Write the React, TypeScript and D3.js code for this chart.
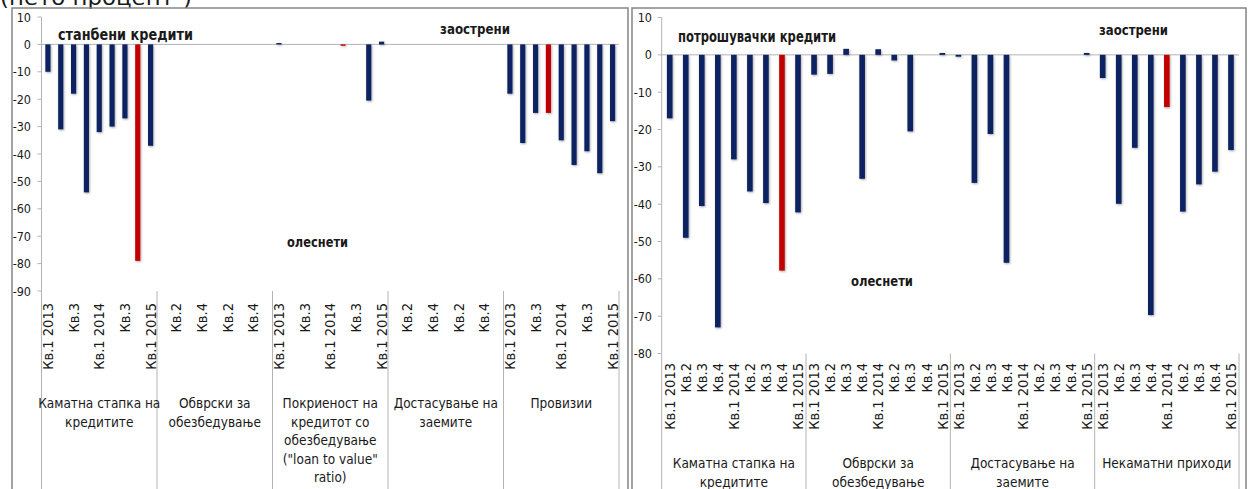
import React from "react";
import * as d3 from "d3";

// ---------- data ----------
const quarters = ["Кв.1 2013", "Кв.2", "Кв.3", "Кв.4", "Кв.1 2014", "Кв.2", "Кв.3", "Кв.4", "Кв.1 2015"];

// Left panel: станбени кредити (housing loans)
const housingGroupLines = [
  ["Каматна стапка на", "кредитите"],
  ["Обврски за", "обезбедување"],
  ["Покриеност на", "кредитот со", "обезбедување", "(\"loan to value\"", "ratio)"],
  ["Достасување на", "заемите"],
  ["Провизии"],
];
const housingRate = [-10, -31, -18, -54, -32, -30, -27, -79, -37];
const housingCollateral = [0, 0, 0, 0, 0, 0, 0, 0, 0];
const housingLTV = [0.5, 0, 0, 0, 0, -0.5, 0, -20.5, 1];
const housingMaturity = [0, 0, 0, 0, 0, 0, 0, 0, 0];
const housingFees = [-18, -36, -25, -25, -35, -44, -39, -47, -28];
const housingRedIndex = [7, -1, 5, -1, 3];
const housingTicks = [10, 0, -10, -20, -30, -40, -50, -60, -70, -80, -90];

// Right panel: потрошувачки кредити (consumer loans)
const consumerGroupLines = [
  ["Каматна стапка на", "кредитите"],
  ["Обврски за", "обезбедување"],
  ["Достасување на", "заемите"],
  ["Некаматни приходи"],
];
const consumerRate = [-17, -49, -40.5, -73, -28, -36.6, -39.7, -57.8, -42.2];
const consumerCollateral = [-5.3, -5.1, 1.6, -33.2, 1.5, -1.5, -20.5, 0, 0.5];
const consumerMaturity = [-0.5, -34.3, -21.2, -55.7, 0, 0, 0, 0, 0.5];
const consumerNonInterest = [-6.2, -39.9, -24.9, -69.7, -14, -42, -34.7, -31.3, -25.5];
const consumerRedIndex = [7, -1, -1, 4];
const consumerTicks = [10, 0, -10, -20, -30, -40, -50, -60, -70, -80];

const NAVY = "#0c2160";
const RED = "#c00000";
const AXIS = "#b4b4b4";
const FRAME = "#858585";
const TXT = "#1a1a1a";
const FONT = "'DejaVu Sans Condensed', 'DejaVu Sans', sans-serif";

type PanelProps = {
  groups: number[][];
  groupLines: string[][];
  redIndex: number[];
  ticks: number[];
  yDomain: [number, number];
  yRange: [number, number];
  xRange: [number, number];
  labelTop: number;
  labelEvery: number;
  groupLabelY: number;
  groupLineGap: number;
  barPad: number;
  tickLabelX: number;
  id: string;
};

function Panel(p: PanelProps) {
  const nPer = quarters.length;
  const slots: { key: string; g: number; i: number; v: number }[] = [];
  p.groups.forEach((vals, g) =>
    vals.forEach((v, i) => slots.push({ key: `${g}-${i}`, g, i, v }))
  );
  const x = d3
    .scaleBand<string>()
    .domain(slots.map((s) => s.key))
    .range(p.xRange)
    .paddingInner(p.barPad)
    .paddingOuter(p.barPad / 2);
  const y = d3.scaleLinear().domain(p.yDomain).range(p.yRange);
  const step = x.step();
  const [x0, x1] = p.xRange;
  const yBottom = y(p.yDomain[0]);
  const groupW = step * nPer;
  return (
    <g>
      {/* y axis */}
      <line x1={x0} x2={x0} y1={y(p.yDomain[1])} y2={489} stroke={AXIS} strokeWidth={1} />
      {p.ticks.map((t) => (
        <g key={t}>
          <line x1={x0 - 4} x2={x0} y1={y(t)} y2={y(t)} stroke={AXIS} />
          <text
            x={p.tickLabelX}
            y={y(t)}
            dy="0.36em"
            textAnchor="end"
            fontSize={12.5}
            fontFamily={FONT}
            fill={TXT}
          >
            {t}
          </text>
        </g>
      ))}
      {/* zero line */}
      <line x1={x0} x2={x1} y1={y(0)} y2={y(0)} stroke={AXIS} strokeWidth={1} />
      {/* group separators */}
      {p.groups.map((_, g) => (
        <line
          key={g}
          x1={x0 + groupW * (g + 1)}
          x2={x0 + groupW * (g + 1)}
          y1={yBottom}
          y2={489}
          stroke={AXIS}
        />
      ))}
      {/* bars */}
      <g filter={`url(#shadow-${p.id})`}>
        {slots.map((s) => {
          const bx = x(s.key) as number;
          const yy = Math.min(y(0), y(s.v));
          const h = Math.max(Math.abs(y(s.v) - y(0)), s.v === 0 ? 0 : 1);
          return (
            <rect
              key={s.key}
              x={bx}
              y={yy}
              width={x.bandwidth()}
              height={h}
              fill={p.redIndex[s.g] === s.i ? RED : NAVY}
            />
          );
        })}
      </g>
      {/* category labels */}
      {slots.map((s, k) =>
        k % p.labelEvery === 0 ? (
          <text
            key={s.key}
            transform={`translate(${(x(s.key) as number) + x.bandwidth() / 2},${p.labelTop}) rotate(-90)`}
            textAnchor="end"
            dy="0.36em"
            fontSize={14.5}
            fontFamily={FONT}
            fill={TXT}
          >
            {quarters[s.i]}
          </text>
        ) : null
      )}
      {/* group labels */}
      {p.groupLines.map((lines, g) =>
        lines.map((ln, j) => (
          <text
            key={`${g}-${j}`}
            x={x0 + groupW * g + groupW / 2}
            y={p.groupLabelY + j * p.groupLineGap}
            textAnchor="middle"
            fontSize={13.5}
            fontFamily={FONT}
            fill={TXT}
          >
            {ln}
          </text>
        ))
      )}
    </g>
  );
}

export default function App() {
  const W = 1248;
  const H = 489;
  return (
    <svg
      width={W}
      height={H}
      style={{ position: "absolute", left: 0, top: 0, background: "#fff" }}
    >
      <defs>
        {["L", "R"].map((id) => (
          <filter key={id} id={`shadow-${id}`} x="-50%" y="-10%" width="200%" height="120%">
            <feDropShadow dx="0.8" dy="1" stdDeviation="0.9" floodColor="#000" floodOpacity="0.35" />
          </filter>
        ))}
      </defs>
      <rect x={0} y={0} width={W} height={H} fill="#fff" />
      {/* clipped heading */}
      <text x={0} y={4.5} fontSize={21} fontFamily="'DejaVu Sans', sans-serif" fill={TXT} textLength={192} lengthAdjust="spacingAndGlyphs">
        (нето процент²)
      </text>
      {/* frames */}
      <path d="M12,489 V8 H628 V489" fill="none" stroke={FRAME} strokeWidth={1.5} />
      <path d="M632,489 V8 H1246 V489" fill="none" stroke={FRAME} strokeWidth={1.5} />

      <Panel
        id="L"
        groups={[housingRate, housingCollateral, housingLTV, housingMaturity, housingFees]}
        groupLines={housingGroupLines}
        redIndex={housingRedIndex}
        ticks={housingTicks}
        yDomain={[-90, 10]}
        yRange={[291, 17]}
        xRange={[41.5, 619]}
        labelTop={303}
        labelEvery={2}
        groupLabelY={408}
        groupLineGap={18.5}
        barPad={0.6}
        tickLabelX={31}
      />
      <Panel
        id="R"
        groups={[consumerRate, consumerCollateral, consumerMaturity, consumerNonInterest]}
        groupLines={consumerGroupLines}
        redIndex={consumerRedIndex}
        ticks={consumerTicks}
        yDomain={[-80, 10]}
        yRange={[353.5, 17.5]}
        xRange={[661.7, 1239]}
        labelTop={363}
        labelEvery={1}
        groupLabelY={468}
        groupLineGap={19}
        barPad={0.65}
        tickLabelX={652}
      />

      {/* annotations */}
      <text x={58} y={40} fontSize={15} fontWeight="bold" fontFamily={FONT} fill={TXT} textLength={135} lengthAdjust="spacingAndGlyphs">
        станбени кредити
      </text>
      <text x={440} y={34} fontSize={14} fontWeight="bold" fontFamily={FONT} fill={TXT} textLength={70} lengthAdjust="spacingAndGlyphs">
        заострени
      </text>
      <text x={287} y={247} fontSize={14} fontWeight="bold" fontFamily={FONT} fill={TXT} textLength={61} lengthAdjust="spacingAndGlyphs">
        олеснети
      </text>
      <text x={678} y={42} fontSize={15} fontWeight="bold" fontFamily={FONT} fill={TXT} textLength={158} lengthAdjust="spacingAndGlyphs">
        потрошувачки кредити
      </text>
      <text x={1099} y={35} fontSize={14} fontWeight="bold" fontFamily={FONT} fill={TXT} textLength={69} lengthAdjust="spacingAndGlyphs">
        заострени
      </text>
      <text x={851} y={286} fontSize={14} fontWeight="bold" fontFamily={FONT} fill={TXT} textLength={62} lengthAdjust="spacingAndGlyphs">
        олеснети
      </text>
    </svg>
  );
}
